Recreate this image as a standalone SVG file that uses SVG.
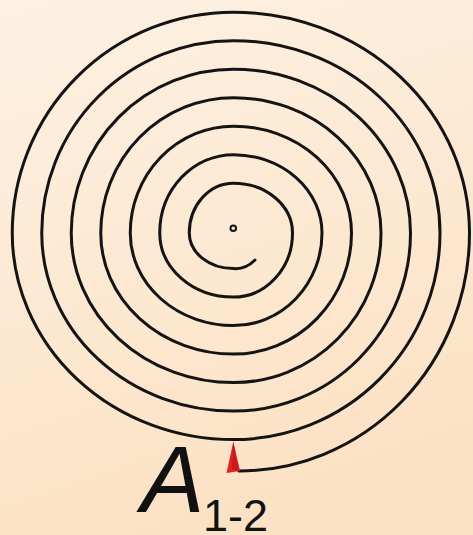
<svg xmlns="http://www.w3.org/2000/svg" width="473" height="535" viewBox="0 0 473 535">
  <defs>
    <linearGradient id="bg" x1="0" y1="0" x2="0.3" y2="1">
      <stop offset="0" stop-color="#fdf1e3"/>
      <stop offset="1" stop-color="#fce2c5"/>
    </linearGradient>
  </defs>
  <style>
    .coil { fill: none; stroke: #141414; stroke-width: 3; stroke-linecap: round; stroke-linejoin: round; }
    .lbl { font-family: "Liberation Sans", Arial, sans-serif; fill: #111; }
  </style>
  <rect x="0" y="0" width="473" height="535" fill="url(#bg)"/>
  <g id="spiral">
    <path class="coil" d="M 255 260 A 30 36 0 0 1 233.5 268.6
      A 44.25 35.6 0 0 1 189.25 233
      A 44.25 49.87 0 0 1 233.5 183.13
      A 59 49.87 0 0 1 292.5 233
      A 59 64.12 0 0 1 233.5 297.12
      A 73.75 64.12 0 0 1 159.75 233
      A 73.75 78.37 0 0 1 233.5 154.63
      A 88.5 78.37 0 0 1 322 233
      A 88.5 92.62 0 0 1 233.5 325.62
      A 103.25 92.62 0 0 1 130.25 233
      A 103.25 106.86 0 0 1 233.5 126.14
      A 118 106.86 0 0 1 351.5 233
      A 118 121.11 0 0 1 233.5 354.11
      A 132.75 121.11 0 0 1 100.75 233
      A 132.75 135.36 0 0 1 233.5 97.64
      A 147.5 135.36 0 0 1 381 233
      A 147.5 149.61 0 0 1 233.5 382.61
      A 162.25 149.61 0 0 1 71.25 233
      A 162.25 163.86 0 0 1 233.5 69.14
      A 177 163.86 0 0 1 410.5 233
      A 177 178.11 0 0 1 233.5 411.11
      A 191.75 178.11 0 0 1 41.75 233
      A 191.75 192.35 0 0 1 233.5 40.65
      A 206.5 192.35 0 0 1 440 233
      A 206.5 206.6 0 0 1 233.5 439.6
      A 221.25 206.6 0 0 1 12.25 233
      A 221.25 220.85 0 0 1 233.5 12.15
      A 236 220.85 0 0 1 469.5 233
      A 230.5 238 0 0 1 239 471"/>
  </g>
  <g id="center">
    <circle cx="233.3" cy="228.3" r="2.8" fill="none" stroke="#141414" stroke-width="2"/>
  </g>
  <g id="marker">
    <polygon points="233.3,441.5 226.5,473 240,471" fill="#e12326"/>
    <polygon points="233.3,441.5 236,458 240,471 232,470" fill="#c81a1e"/>
  </g>
  <g id="label">
    <text class="lbl" x="141" y="512" font-size="95" font-style="italic">A</text>
    <text class="lbl" x="203" y="530.5" font-size="45">1-2</text>
  </g>
</svg>
